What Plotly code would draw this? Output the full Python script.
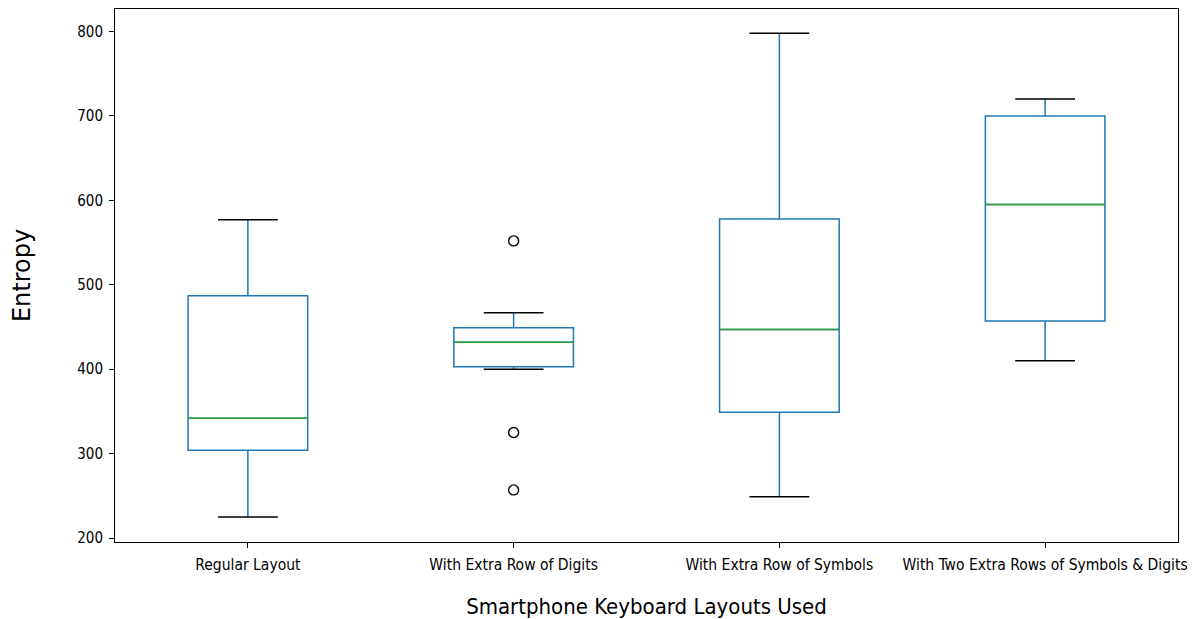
import plotly.graph_objects as go

# ---- data ----
categories = [
    "Regular Layout",
    "With Extra Row of Digits",
    "With Extra Row of Symbols",
    "With Two Extra Rows of Symbols & Digits",
]
lower_whisker = [225, 400, 249, 410]
q1_values = [304, 403, 349, 457]
median_values = [342, 432, 447, 595]
q3_values = [487, 449, 578, 700]
upper_whisker = [577, 467, 798, 720]
outlier_values = [[], [552, 325, 257], [], []]
y_ticks = [200, 300, 400, 500, 600, 700, 800]

BOX_BLUE = "#1f77b4"
MED_GREEN = "#2ca02c"
BOX_W = 0.45
TICK_FONT = "DejaVu Sans Condensed, DejaVu Sans, sans-serif"

positions = list(range(1, len(categories) + 1))

fig = go.Figure()

for p, lo, a, m, b, hi in zip(positions, lower_whisker, q1_values,
                              median_values, q3_values, upper_whisker):
    fig.add_trace(go.Box(
        x=[p], q1=[a], median=[m], q3=[b],
        lowerfence=[lo], upperfence=[hi],
        width=BOX_W, whiskerwidth=0,
        line=dict(color=BOX_BLUE, width=1.5),
        fillcolor="rgba(255,255,255,0)",
        boxpoints=False, showlegend=False, hoverinfo="skip",
    ))

# medians (green) and whisker caps (black), derived from the data arrays
med_x, med_y, cap_x, cap_y = [], [], [], []
for p, m, lo, hi in zip(positions, median_values, lower_whisker, upper_whisker):
    med_x += [p - BOX_W / 2, p + BOX_W / 2, None]
    med_y += [m, m, None]
    cap_x += [p - BOX_W / 4, p + BOX_W / 4, None, p - BOX_W / 4, p + BOX_W / 4, None]
    cap_y += [lo, lo, None, hi, hi, None]

fig.add_trace(go.Scatter(x=med_x, y=med_y, mode="lines",
                         line=dict(color=MED_GREEN, width=1.5),
                         showlegend=False, hoverinfo="skip"))
fig.add_trace(go.Scatter(x=cap_x, y=cap_y, mode="lines",
                         line=dict(color="black", width=1.5),
                         showlegend=False, hoverinfo="skip"))

out_x, out_y = [], []
for p, outs in zip(positions, outlier_values):
    for v in outs:
        out_x.append(p)
        out_y.append(v)
fig.add_trace(go.Scatter(x=out_x, y=out_y, mode="markers",
                         marker=dict(symbol="circle-open", size=10,
                                     color="black", line=dict(width=1.4)),
                         showlegend=False, hoverinfo="skip"))

# the page places the figure 8px in from the top-left corner
fig.update_layout(
    width=1187, height=611,
    margin=dict(l=107, r=17, t=1, b=77, autoexpand=False),
    paper_bgcolor="white", plot_bgcolor="white",
    font=dict(family=TICK_FONT, color="black", size=15),
)
fig.update_xaxes(
    range=[0.5, 4.5], tickvals=positions, ticktext=categories,
    showline=True, mirror=True, linecolor="black", linewidth=1,
    ticks="outside", ticklen=5, tickcolor="black", showgrid=False,
    zeroline=False, tickfont=dict(size=15.5, family=TICK_FONT),
    ticklabelstandoff=3,
    title=dict(text="Smartphone Keyboard Layouts Used",
               font=dict(size=22, family=TICK_FONT), standoff=28),
)
fig.update_yaxes(
    range=[195.3, 826.7], tickvals=y_ticks,
    showline=True, mirror=True, linecolor="black", linewidth=1,
    ticks="outside", ticklen=5, tickcolor="black", showgrid=False,
    zeroline=False, tickfont=dict(size=15, family=TICK_FONT),
    ticklabelstandoff=3,
    title=dict(text="Entropy", font=dict(size=24, family="DejaVu Sans"),
               standoff=48),
)

fig.write_html("out.html")
